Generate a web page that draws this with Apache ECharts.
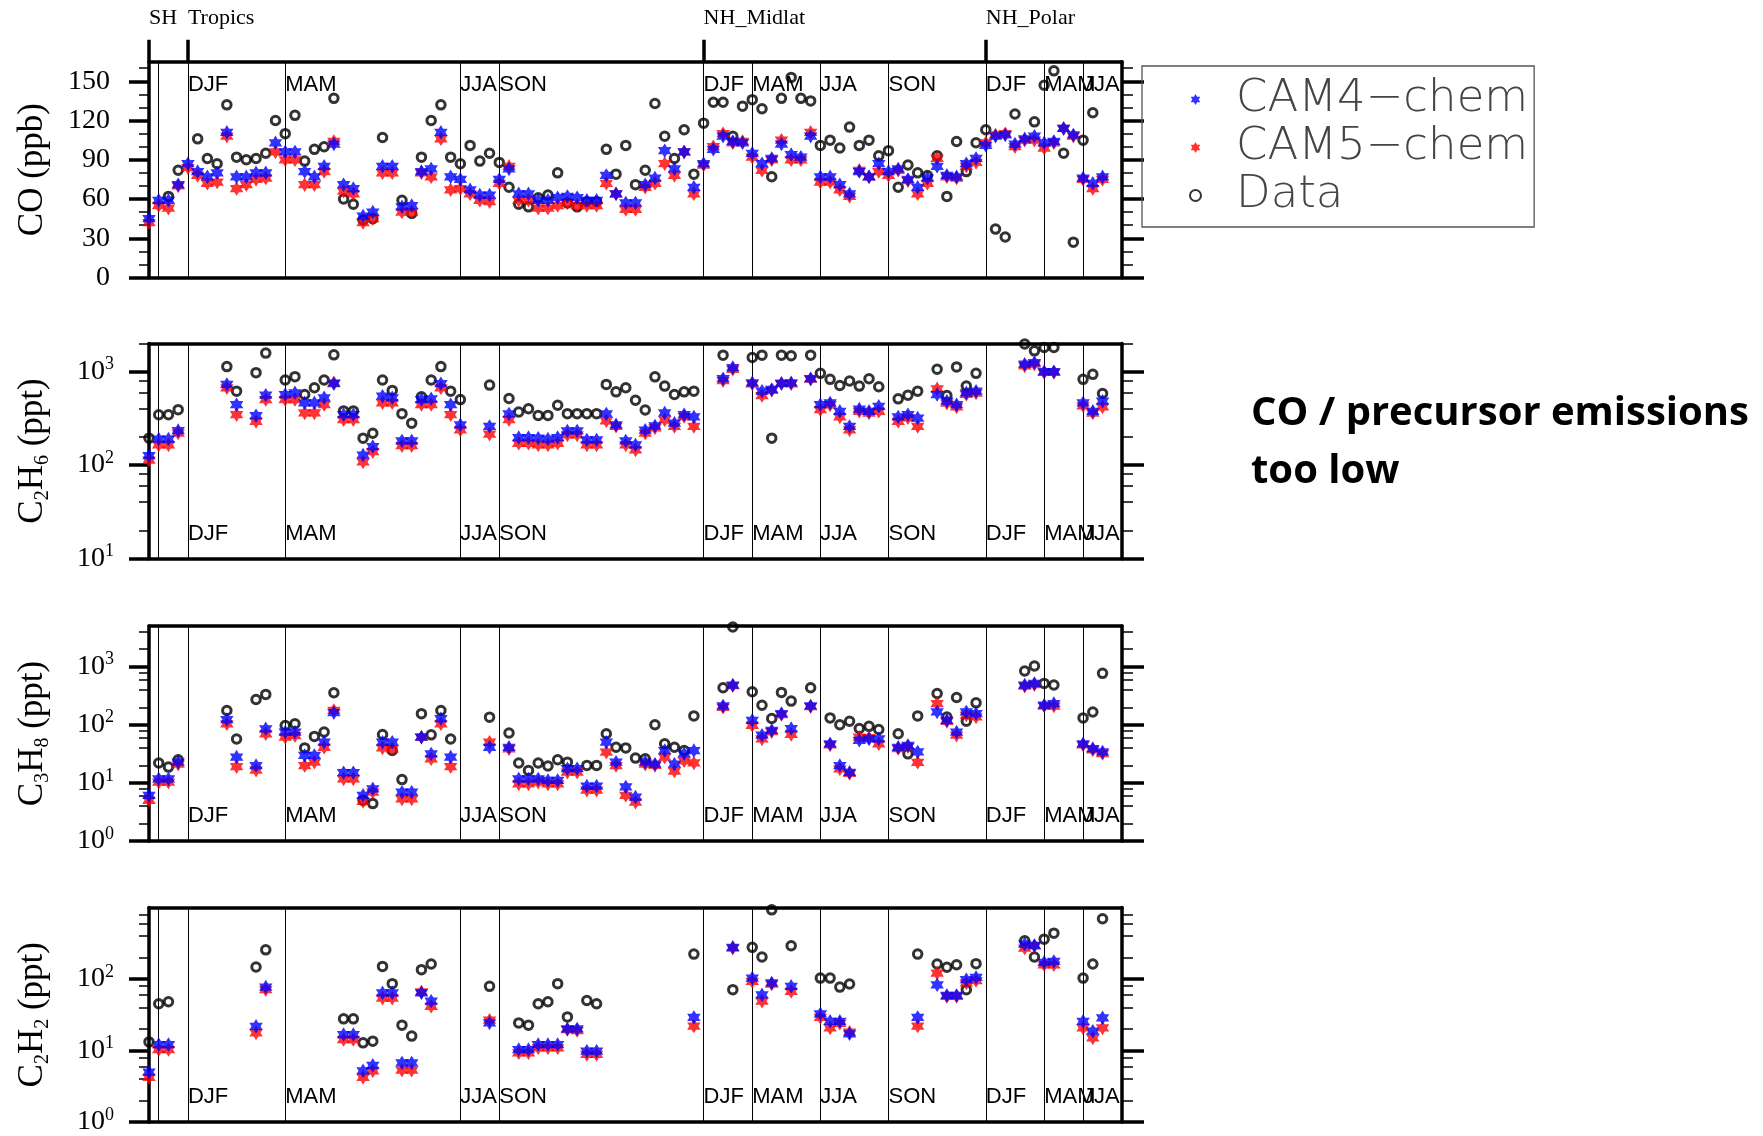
<!DOCTYPE html>
<html><head><meta charset="utf-8">
<script src="https://cdn.jsdelivr.net/npm/echarts@6/dist/echarts.min.js"></script>
<style>html,body{margin:0;padding:0;background:#fff}#c{width:1763px;height:1136px}</style>
</head><body><div id="c"></div>
<script>
// ---------------- data ----------------
const seasonLines = [1,4,14,32,36,57,62,69,76,86,92,96];
const seasonPos = [4,14,32,36,57,62,69,76,86,92,96];
const seasonNames = ['DJF','MAM','JJA','SON','DJF','MAM','JJA','SON','DJF','MAM','JJA'];
const regionPos = [0,4,57,86];
const regionNames = ['SH','Tropics','NH_Midlat','NH_Polar'];

// CO (ppb) – every site 0..98
const coSites = Array.from({length: 99}, (_, i) => i);
const coCAM4 = [45,59,59,71,87,81,77,80,111,77, 77,80,80,103,96,96,81,77,85,102, 71,68,47,50,85,85,54,55,81,83,
  111,77,75,67,63,63,75,83,64,64, 59,59,61,62,61,59,59,78,64,57, 57,71,76,97,83,96,69,87,98,108,
  104,103,95,87,91,102,94,92,108,77, 77,71,64,81,77,87,81,83,75,69, 76,85,78,77,87,91,101,108,109,102,
  106,108,103,104,114,109,76,72,77];
const coCAM5 = [42,55,53,70,84,78,72,73,108,68, 71,75,76,96,90,90,71,71,81,104, 66,64,42,45,80,80,50,50,80,77,
  106,67,68,64,59,58,72,85,59,59, 53,53,55,57,55,55,55,72,64,52, 52,69,72,87,78,96,64,86,100,110,
  103,104,92,82,90,105,90,90,111,73, 73,67,62,82,77,81,78,82,74,64, 72,91,77,76,85,88,103,109,110,100,
  105,105,99,103,114,108,75,68,75];
const coData = [null,null,62,82,null,106,91,87,132,92, 90,91,95,120,110,124,89,98,100,137, 60,56,44,45,107,null,59,49,92,120,
  132,92,87,101,89,95,88,69,56,54, 61,63,80,57,54,58,58,98,79,101, 71,82,133,108,91,113,79,118,134,134,
  108,131,136,129,77,137,153,137,135,101, 105,99,115,101,105,93,97,69,86,80, 78,93,62,104,81,103,113,37,31,125,
  null,119,147,158,95,27,105,126,null];
const coTicks = [0,30,60,90,120,150];
const coMinor = [10,20,40,50,70,80,100,110,130,140,160];

// C2H6 (ppt)
const c2h6Sites = [0,1,2,3,8,9,11,12,14,15,16,17,18,19,20,21,22,23,24,25,26,27,28,29,30,31,32,35,
  37,38,39,40,41,42,43,44,45,46,47,48,49,50,51,52,53,54,55,56,59,60,62,63,64,65,66,
  68,69,70,71,72,73,74,75,77,78,79,81,82,83,84,85,90,91,92,93,96,97,98];
const c2h6CAM4 = [126,190,190,234, 730,443, 338,560, 569,593,463,463,524,742,346,346,128,158,546,524,181,181,502,511,742,443,270,
  259, 352,197,197,194,190,197,232,232,186,186,352,270,181,164,236,262,361,281,346,327, 840,1105, 760,618,644,748,760,
  840,443,462,376,259,398,376,425, 327,346,318, 569,482,443,593,618, 1200,1250,1000,1000, 462,376,482];
const c2h6CAM5 = [113,164,164,220, 672,346, 293,502, 502,502,361,361,444,760,306,306,108,139,463,463,161,161,444,444,672,346,238,
  214, 306,171,171,164,164,171,210,210,164,164,298,260,164,145,220,250,305,259,330,259, 800,1060, 740,555,630,748,740,
  830,392,440,327,238,376,360,376, 293,320,259, 655,460,419,570,590, 1150,1200,980,980, 430,360,419];
const c2h6Data = [194,346,346,392, 1132,618, 975,1579, 813,883,569,672,813,1513,380,380,194,219,813,629,355,281,537,813,1132,618,502,
  718, 515,370,401,340,340,437,355,355,355,355,730,608,672,494,388,880,700,569,608,618, 1500,null, 1416,1500,194,1500,1477,
  1500,959,827,711,793,700,840,688, 511,560,618, 1060,555,1123,700,959, 1974,1670,1815,1815, 827,936,583];
const c2h6Ticks = [10,100,1000];
const c2h6Minor = [20,40,60,80,200,400,600,800,2000];

// C3H8 (ppt)
const c3h8Sites = [0,1,2,3,8,9,11,12,14,15,16,17,18,19,20,21,22,23,24,25,26,27,28,29,30,31,35,
  37,38,39,40,41,42,43,44,45,46,47,48,49,50,51,52,53,54,55,56,59,60,62,63,64,65,66,68,
  70,71,72,73,74,75,77,78,79,81,82,83,84,85,90,91,92,93,96,97,98];
const c3h8CAM4 = [6.1,11.7,11.7,22.7, 123,27.8, 19.9,85, 75,75,29.6,29.6,50,161,15,15,6.1,7.9,50,50,6.9,6.9,61,31.5,127,27.8,
  41, 41,11.7,11.7,11.7,11,11,17.5,17.5,8.8,8.8,50,22.7,8.5,5.7,22.7,21,36,21,31.6,36, 211,482, 119,66,80,156,86, 211,
  47,19.9,15.2,54,57,57, 41,44,34, 166,119,75,166,156, 482,515,217,232, 47,39,34];
const c3h8CAM5 = [5.0,10.3,10.3,21, 104,19, 16.5,70, 61,65,19.9,22.7,41,176,11.7,11.7,4.8,6.9,40,38.6,5.3,5.3,61,25.9,104,19,
  50, 38.6,9.6,9.6,10.3,9.6,9.6,15.3,15.3,7.5,7.5,33.8,19.9,6.1,4.66,21,20,27.7,16,24,22, 200,470, 98,57,76,150,68, 205,
  45,17.4,14.5,61,60,47, 39,42,22.6, 232,114,66,146,136, 460,490,210,210, 45,37,32];
const c3h8Data = [null,22,18.7,25, 176,57, 272,333, 97,104,40,63,75,356,null,null,5.0,4.4,68,36,11.4,null,155,67,176,57,
  135, 72,22,16.4,22,19.5,25,22.7,null,20,20,70,41,40,26.7,26,100,47,41,36,142, 433,4800, 369,217,128,360,255, 433,
  131,100,115,86,94,83, 70,31.6,142, 345,136,294,115,238, 841,1027,515,482, 131,166,767];
const c3h8Ticks = [1,10,100,1000];
const c3h8Minor = [2,4,6,8,20,40,60,80,200,400,600,800,2000,4000];

// C2H2 (ppt)
const c2h2Sites = [0,1,2,11,12,20,21,22,23,24,25,26,27,28,29,35,38,39,40,41,42,43,44,45,46,56,60,62,63,64,66,
  69,70,71,72,79,81,82,83,84,85,90,91,92,93,96,97,98];
const c2h2CAM4 = [5.0,12.1,12.1, 21.8,77, 16.7,16.7,5.2,6.2,64,64,6.7,6.7,64,49, 24.3, 10.3,10.3,12.1,12.1,12.1,20,20,9.8,9.8,
  29, 277, 103,60,88, 79, 32.5,25.6,25.6,17.1, 29, 83,59,59,98,105, 308,295,171,176, 25.6,18.6,28.6];
const c2h2CAM5 = [4.2,10.3,10.3, 17.6,71, 14.2,14.2,4.2,5.2,54,54,5.3,5.3,66,41.5, 26.5, 9.3,9.3,10.9,10.9,10.9,19.6,19,8.8,8.8,
  22, 270, 93,49,85, 67, 29,20.7,24,18, 22, 121,57,57,88,95, 271,290,158,158, 20.7,15,20.7];
const c2h2Data = [13.2,45,48, 147,256, 27.7,27.7,12.8,13.5,150,86,22.6,15.9,135,162, 79, 24.3,22.6,45,48,86,29.5,null,50,45,
  223, 71, 277,203,927, 292, 103,103,77,85, 223, 162,146,158,71,164, 343,203,361,438, 103,162,695];
const c2h2Ticks = [1,10,100];
const c2h2Minor = [2,4,6,8,20,40,60,80,200,400,600,800];

// ---------------- layout / styles ----------------
const LEFT = 149, WIDTH = 973;
const panelBoxes = [
  {top: 61.7, height: 215.8},
  {top: 343.5, height: 215},
  {top: 626, height: 215},
  {top: 907.5, height: 214.5}
];
const panels = [
  {name: 'CO (ppb)', type: 'value', min: 0, max: 165, major: coTicks, minor: coMinor,
   sites: coSites, cam4: coCAM4, cam5: coCAM5, obs: coData},
  {name: 'C{sub|2}H{sub|6} (ppt)', type: 'log', min: 10, max: 2000, major: c2h6Ticks, minor: c2h6Minor,
   sites: c2h6Sites, cam4: c2h6CAM4, cam5: c2h6CAM5, obs: c2h6Data},
  {name: 'C{sub|3}H{sub|8} (ppt)', type: 'log', min: 1, max: 5000, major: c3h8Ticks, minor: c3h8Minor,
   sites: c3h8Sites, cam4: c3h8CAM4, cam5: c3h8CAM5, obs: c3h8Data},
  {name: 'C{sub|2}H{sub|2} (ppt)', type: 'log', min: 1, max: 1000, major: c2h2Ticks, minor: c2h2Minor,
   sites: c2h2Sites, cam4: c2h2CAM4, cam5: c2h2CAM5, obs: c2h2Data}
];
const starPath = 'path://M0,-100L28.87,-50L86.6,-50L57.7,0L86.6,50L28.87,50L0,100L-28.87,50L-86.6,50L-57.7,0L-86.6,-50L-28.87,-50Z';
const SERIF = 'Liberation Serif';
const SANS = 'Liberation Sans';
const AXW = 3.5;
const STAR = [13.5, 14.5];

function pairs(sites, vals) {
  const out = [];
  for (let k = 0; k < sites.length; k++) if (vals[k] != null) out.push([sites[k], vals[k]]);
  return out;
}
function seasonLabel(v) { return seasonNames[seasonPos.indexOf(Math.round(v))] || ''; }
// the last season label overlaps its neighbour, so it gets an axis of its own
const seasonPosMain = seasonPos.slice(0, seasonPos.length - 1);
const seasonPosLast = seasonPos.slice(seasonPos.length - 1);

const grids = [], xAxes = [], yAxes = [], series = [];
function labelAxis(pi, position, values, margin) {
  xAxes.push({gridIndex: pi, type: 'value', min: 0, max: 100, position: position,
    axisLine: {show: false, onZero: false}, axisTick: {show: false}, splitLine: {show: false},
    axisLabel: {show: true, inside: true, customValues: values, formatter: seasonLabel, hideOverlap: false,
      align: 'left', margin: margin, fontFamily: SANS, fontSize: 22, lineHeight: 22, color: '#000'}});
}
panels.forEach((p, pi) => {
  grids.push({left: LEFT, width: WIDTH, top: panelBoxes[pi].top, height: panelBoxes[pi].height,
    containLabel: false, outerBoundsMode: 'none'});
  const xi = xAxes.length;
  // bottom axis (season lines)
  xAxes.push({gridIndex: pi, type: 'value', min: 0, max: 100, position: 'bottom',
    axisLine: {show: true, onZero: false, lineStyle: {color: '#000', width: AXW}},
    axisTick: {show: false, customValues: seasonLines},
    splitLine: {show: true, lineStyle: {color: '#000', width: 1}},
    axisLabel: {show: false}});
  // top axis
  xAxes.push({gridIndex: pi, type: 'value', min: 0, max: 100, position: 'top',
    axisLine: {show: true, onZero: false, lineStyle: {color: '#000', width: AXW}},
    axisTick: {show: false}, splitLine: {show: false}, axisLabel: {show: false}});
  if (pi === 0) {
    labelAxis(pi, 'top', seasonPosMain, 12);
    labelAxis(pi, 'top', seasonPosLast, 12);
  } else {
    labelAxis(pi, 'bottom', seasonPosMain, 14);
    labelAxis(pi, 'bottom', seasonPosLast, 14);
  }

  const base = {gridIndex: pi, type: p.type, min: p.min, max: p.max, logBase: 10, splitLine: {show: false}};
  const fmt = p.type === 'log' ? (v => '10{s|' + Math.round(Math.log10(v)) + '}') : (v => String(v));
  const yi = yAxes.length;
  yAxes.push(Object.assign({}, base, {position: 'left',
    axisLine: {show: true, onZero: false, lineStyle: {color: '#000', width: AXW}},
    axisTick: {show: true, customValues: p.major, length: 20, lineStyle: {color: '#000', width: AXW}},
    axisLabel: {show: true, customValues: p.major, formatter: fmt, margin: p.type === 'log' ? 35 : 39,
      hideOverlap: false, fontFamily: SERIF, fontSize: 28, lineHeight: 32, color: '#000',
      rich: {s: {fontFamily: SERIF, fontSize: 18, lineHeight: 14, verticalAlign: 'top', color: '#000'}}},
    name: p.name, nameLocation: 'middle', nameGap: 96, nameRotate: 90,
    nameTextStyle: {fontFamily: SERIF, fontSize: 35, lineHeight: 40, color: '#000',
      rich: {sub: {fontFamily: SERIF, fontSize: 20, lineHeight: 26, verticalAlign: 'bottom', color: '#000'}}}}));
  yAxes.push(Object.assign({}, base, {position: 'left',
    axisLine: {show: false, onZero: false},
    axisTick: {show: true, customValues: p.minor, length: 10, lineStyle: {color: '#000', width: 1.5}},
    axisLabel: {show: false}}));
  yAxes.push(Object.assign({}, base, {position: 'right',
    axisLine: {show: true, onZero: false, lineStyle: {color: '#000', width: AXW}},
    axisTick: {show: true, customValues: p.major, length: 22, lineStyle: {color: '#000', width: AXW}},
    axisLabel: {show: false}}));
  yAxes.push(Object.assign({}, base, {position: 'right',
    axisLine: {show: false, onZero: false},
    axisTick: {show: true, customValues: p.minor, length: 11, lineStyle: {color: '#000', width: 1.5}},
    axisLabel: {show: false}}));

  series.push({type: 'scatter', name: 'Data', xAxisIndex: xi, yAxisIndex: yi, z: 2,
    symbol: 'circle', symbolSize: 8.5, data: pairs(p.sites, p.obs),
    itemStyle: {color: 'rgba(0,0,0,0)', borderColor: '#000', borderWidth: 3}});
  series.push({type: 'scatter', name: 'CAM5\u2212chem', xAxisIndex: xi, yAxisIndex: yi, z: 3,
    symbol: starPath, symbolSize: STAR, data: pairs(p.sites, p.cam5), itemStyle: {color: '#ff0000'}});
  series.push({type: 'scatter', name: 'CAM4\u2212chem', xAxisIndex: xi, yAxisIndex: yi, z: 4,
    symbol: starPath, symbolSize: STAR, data: pairs(p.sites, p.cam4), itemStyle: {color: '#0000ff'}});
});
// region ticks + names above the first panel
xAxes.push({gridIndex: 0, type: 'value', min: 0, max: 100, position: 'top',
  axisLine: {show: false, onZero: false},
  axisTick: {show: true, customValues: regionPos, length: 22, lineStyle: {color: '#000', width: AXW}},
  splitLine: {show: false},
  axisLabel: {show: true, customValues: regionPos, formatter: v => regionNames[regionPos.indexOf(Math.round(v))] || '',
    hideOverlap: false, align: 'left', margin: 32, fontFamily: SERIF, fontSize: 22, lineHeight: 22, color: '#000'}});

const chart = echarts.init(document.getElementById('c'), null, {renderer: 'canvas'});
chart.setOption({
  animation: false,
  backgroundColor: '#fff',
  grid: grids, xAxis: xAxes, yAxis: yAxes, series: series,
  legend: {data: ['CAM4\u2212chem', 'CAM5\u2212chem', 'Data'], orient: 'vertical', left: 1142, top: 66,
    padding: [11, 6, 9, 47], itemGap: 3, itemWidth: 11, itemHeight: 11,
    borderColor: '#555', borderWidth: 1.3, selectedMode: false,
    textStyle: {fontFamily: 'DejaVu Sans', fontWeight: 200, fontSize: 45, lineHeight: 45, color: '#444',
      padding: [0, 0, 0, 30]}},
  graphic: [
    {type: 'text', x: 1251, y: 414, style: {text: 'CO / precursor emissions', fontFamily: 'Open Sans',
      fontWeight: 'bold', fontSize: 40, fill: '#000', verticalAlign: 'middle', align: 'left'}},
    {type: 'text', x: 1251, y: 472, style: {text: 'too low', fontFamily: 'Open Sans',
      fontWeight: 'bold', fontSize: 40, fill: '#000', verticalAlign: 'middle', align: 'left'}}
  ]
});
</script></body></html>
